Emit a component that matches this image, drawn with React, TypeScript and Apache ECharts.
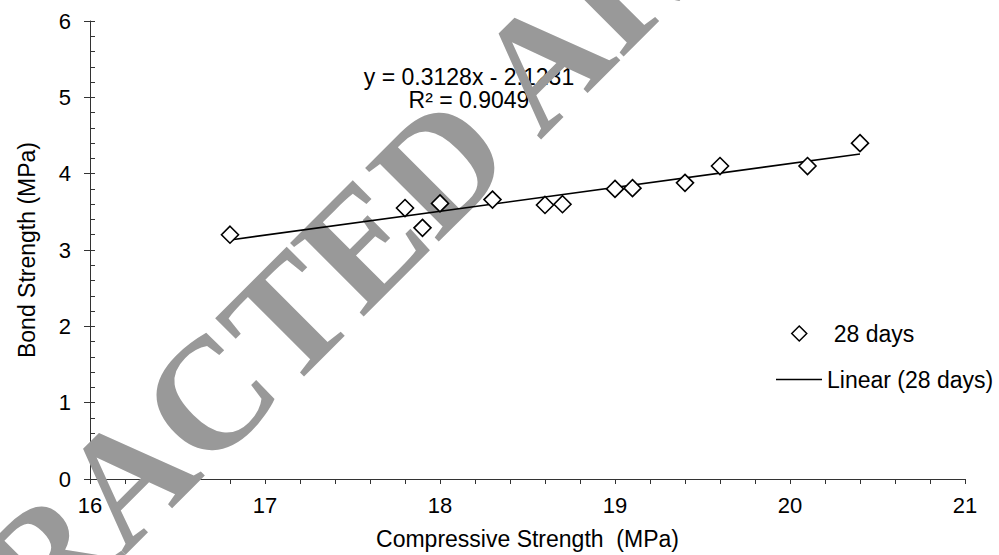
import React, { useEffect, useRef } from 'react';
import * as echarts from 'echarts';

// ---- data ----
const compressiveStrength = [16.8, 17.8, 17.9, 18.0, 18.3, 18.6, 18.7, 19.0, 19.1, 19.4, 19.6, 20.1, 20.4];
const bondStrength = [3.2, 3.55, 3.29, 3.61, 3.66, 3.59, 3.6, 3.8, 3.81, 3.88, 4.1, 4.1, 4.4];
const trendSlope = 0.3128;
const trendIntercept = -2.1231;
const rSquared = 0.9049;
const seriesName = '28 days';
const trendName = 'Linear (28 days)';
const xTitle = 'Compressive Strength  (MPa)';
const yTitle = 'Bond Strength (MPa)';
const watermark = 'RETRACTED ARTICLE';

const SANS = '"Liberation Sans", Arial, sans-serif';
const SERIF = '"Liberation Serif", "Times New Roman", serif';
const AXIS_COLOR = '#333';

export default function App() {
  const ref = useRef<HTMLDivElement>(null);

  useEffect(() => {
    if (!ref.current) return;
    const chart = echarts.init(ref.current, undefined, { renderer: 'svg' });

    const points = compressiveStrength.map((x, i) => [x, bondStrength[i]]);
    const xMin = Math.min(...compressiveStrength);
    const xMax = Math.max(...compressiveStrength);
    const trend = [
      [xMin, trendSlope * xMin + trendIntercept],
      [xMax, trendSlope * xMax + trendIntercept],
    ];
    const equation = `y = ${trendSlope}x - ${Math.abs(trendIntercept)}\nR² = ${rSquared}`;

    const option: any = {
      animation: false,
      backgroundColor: '#fff',
      grid: { left: 90, right: 34, top: 21, bottom: 75 },
      xAxis: {
        type: 'value',
        min: 16,
        max: 21,
        interval: 1,
        name: xTitle,
        nameLocation: 'middle',
        nameGap: 48,
        nameTextStyle: { fontFamily: SANS, fontSize: 23, color: '#000' },
        axisLine: { show: true, onZero: false, lineStyle: { color: AXIS_COLOR, width: 1 } },
        axisTick: { show: true, inside: false, length: 5, lineStyle: { color: AXIS_COLOR, width: 1 } },
        minorTick: { show: true, splitNumber: 5, length: 5, lineStyle: { color: AXIS_COLOR, width: 1 } },
        axisLabel: { margin: 15, fontFamily: SANS, fontSize: 22, color: '#000' },
        splitLine: { show: false },
        minorSplitLine: { show: false },
      },
      yAxis: [
        {
          type: 'value',
          min: 0,
          max: 6,
          interval: 1,
          position: 'left',
          name: yTitle,
          nameLocation: 'middle',
          nameGap: 52,
          nameTextStyle: { fontFamily: SANS, fontSize: 23, color: '#000' },
          axisLine: { show: true, onZero: false, lineStyle: { color: AXIS_COLOR, width: 1 } },
          axisTick: { show: true, inside: true, length: 5, lineStyle: { color: AXIS_COLOR, width: 1 } },
          minorTick: { show: true, splitNumber: 5, length: 5, lineStyle: { color: AXIS_COLOR, width: 1 } },
          axisLabel: { margin: 19, fontFamily: SANS, fontSize: 22, color: '#000' },
          splitLine: { show: false },
          minorSplitLine: { show: false },
        },
        {
          type: 'value',
          min: 0,
          max: 6,
          interval: 1,
          position: 'left',
          offset: 0,
          axisLine: { show: false },
          axisTick: { show: true, inside: false, length: 6, lineStyle: { color: AXIS_COLOR, width: 1 } },
          axisLabel: { show: false },
          splitLine: { show: false },
        },
      ],
      legend: [
        {
          orient: 'vertical',
          left: 791,
          top: 322,
          padding: 0,
          itemWidth: 15,
          itemHeight: 15,
          textStyle: { fontFamily: SANS, fontSize: 23, color: '#000', padding: [0, 0, 0, 22] },
          data: [
            {
              name: seriesName,
              icon: 'diamond',
              itemStyle: { color: '#fff', borderColor: '#000', borderWidth: 1.5 },
            },
          ],
        },
        {
          orient: 'vertical',
          left: 776,
          top: 368,
          padding: 0,
          itemWidth: 46,
          itemHeight: 1.6,
          textStyle: { fontFamily: SANS, fontSize: 23, color: '#000' },
          data: [
            {
              name: trendName,
              icon: 'rect',
              itemStyle: { color: '#000', borderWidth: 0 },
            },
          ],
        },
      ],
      series: [
        {
          name: seriesName,
          type: 'scatter',
          data: points,
          symbol: 'diamond',
          symbolSize: 17,
          itemStyle: { color: '#fff', borderColor: '#000', borderWidth: 1.6, opacity: 1 },
          z: 4,
        },
        {
          name: trendName,
          type: 'line',
          data: trend,
          symbol: 'none',
          lineStyle: { color: '#000', width: 1.6 },
          itemStyle: { color: '#000' },
          z: 3,
        },
      ],
      graphic: [
        {
          type: 'text',
          x: 469,
          y: 88.5,
          z: 0,
          style: {
            text: equation,
            fontFamily: SANS,
            fontSize: 23,
            lineHeight: 23,
            fill: '#000',
            align: 'center',
            verticalAlign: 'middle',
            textAlign: 'center',
            textVerticalAlign: 'middle',
          },
        },
        {
          type: 'text',
          x: 392,
          y: 212,
          z: 1,
          rotation: Math.PI / 4,
          silent: true,
          style: {
            text: watermark,
            fontFamily: SERIF,
            fontWeight: 'bold',
            fontSize: 159,
            fill: '#999999',
            align: 'center',
            verticalAlign: 'middle',
            textAlign: 'center',
            textVerticalAlign: 'middle',
          },
        },
      ],
    };

    chart.setOption(option);
    return () => chart.dispose();
  }, []);

  return (
    <div
      ref={ref}
      style={{ position: 'fixed', left: 0, top: 0, width: 999, height: 555, background: '#fff' }}
    />
  );
}
